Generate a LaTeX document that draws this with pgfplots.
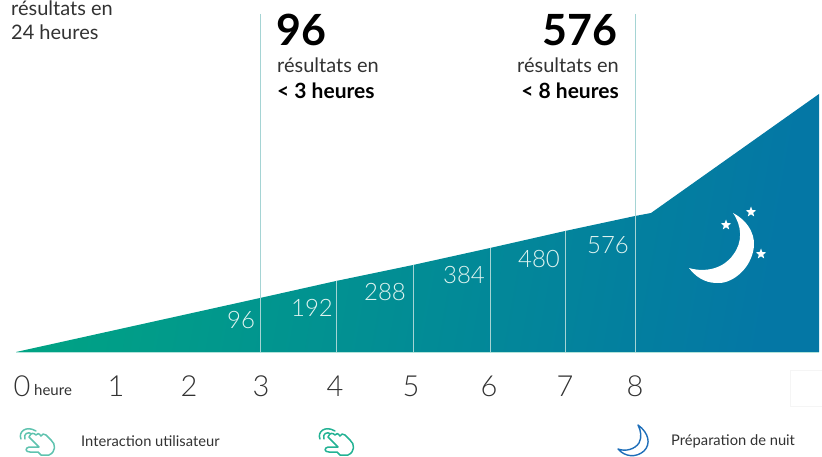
\documentclass[border=0pt]{standalone}
\usepackage{pgfplots}
\pgfplotsset{compat=1.18}
\usepackage{fontspec}
\setmainfont{Lato}
\newfontfamily\lightf{Lato Light}
\usetikzlibrary{shapes.geometric}
\definecolor{txt}{RGB}{50,50,50}
\definecolor{gleft}{RGB}{0,163,132}
\definecolor{gright}{RGB}{4,119,165}
\definecolor{vline}{RGB}{165,212,212}
\definecolor{handa}{RGB}{95,195,175}
\definecolor{handb}{RGB}{35,178,148}
\definecolor{moonb}{RGB}{30,110,185}

% hand icon, drawn around its top left corner
\newcommand{\hand}[3]{%
  \draw[#3,line width=1.5pt,line join=round,line cap=round]
    (#1+3,#2+12) .. controls (#1+0,#2+5) and (#1+8,#2-2) .. (#1+18,#2+4)
    (#1+7,#2+12) .. controls (#1+5,#2+7) and (#1+10,#2+4) .. (#1+14,#2+7)
    (#1+11,#2+10) -- (#1+21,#2+20) -- (#1+11,#2+20)
    .. controls (#1+7,#2+21) and (#1+7,#2+25) .. (#1+12,#2+25)
    -- (#1+20,#2+25) -- (#1+23,#2+28) -- (#1+31,#2+28)
    .. controls (#1+38,#2+25) and (#1+38,#2+17) .. (#1+33,#2+13)
    -- (#1+28,#2+8) .. controls (#1+26,#2+6) and (#1+24,#2+7) .. (#1+23,#2+9)
    .. controls (#1+21,#2+6) and (#1+19,#2+6) .. (#1+18,#2+8)
    .. controls (#1+16,#2+6) and (#1+13,#2+5) .. (#1+11,#2+10);}

\begin{document}
\begin{tikzpicture}[x=1pt,y=1pt,every node/.style={inner sep=0pt}]
\path[use as bounding box,clip] (0,0) rectangle (822pt,457pt);
\begin{axis}[
  at={(0pt,0pt)},anchor=south west,
  x=1pt,y=-1pt,
  xmin=0,xmax=822,ymin=0,ymax=457,
  axis lines=none,
  clip=false,
  scale only axis,
]
% ramp
\addplot[draw=none,shading=axis,left color=gleft,right color=gright,shading angle=80,forget plot]
  coordinates {(16,352)(260,298)(336,281)(413,265)(490,248)(565,231)(635,216)(651,213)(819,94)(819,352)} -- cycle;
\addplot[white!70!gleft,line width=0.7pt,forget plot] coordinates {(16,352)(819,352)};
% hour markers
\addplot[vline,line width=0.7pt] coordinates {(260,14)(260,352)};
\addplot[vline,line width=0.7pt] coordinates {(635,14)(635,352)};
\addplot[vline,line width=0.6pt] coordinates {(336,281)(336,352)};
\addplot[vline,line width=0.6pt] coordinates {(413,265)(413,352)};
\addplot[vline,line width=0.6pt] coordinates {(490,248)(490,352)};
\addplot[vline,line width=0.6pt] coordinates {(565,231)(565,352)};
% results
\node[white!88!gleft,font=\fontsize{24}{26}\lightf] at (241,320) {96};
\node[white!88!gleft,font=\fontsize{24}{26}\lightf] at (312,308) {192};
\node[white!88!gleft,font=\fontsize{24}{26}\lightf] at (385,292) {288};
\node[white!88!gleft,font=\fontsize{24}{26}\lightf] at (464,275) {384};
\node[white!88!gleft,font=\fontsize{24}{26}\lightf] at (539,259) {480};
\node[white!88!gleft,font=\fontsize{24}{26}\lightf] at (608,245) {576};
% hours
\foreach \x/\l in {22/0,116/1,189/2,261/3,335/4,411/5,489/6,565/7,635/8}{
  \edef\tmp{\noexpand\node[txt,font=\noexpand\fontsize{29}{30}\noexpand\lightf] at (\x,386) {\l};}\tmp}
\node[txt,font=\fontsize{15}{18}\selectfont,anchor=west] at (34,390) {heure};
% callouts
\node[txt,font=\fontsize{20}{24}\selectfont,anchor=west] at (11,8) {résultats en};
\node[txt,font=\fontsize{20}{24}\selectfont,anchor=west] at (11,32) {24 heures};
\node[black,font=\fontsize{43}{46}\selectfont\bfseries,anchor=west] at (276,30) {96};
\node[txt,font=\fontsize{20}{24}\selectfont,anchor=west] at (277,65) {résultats en};
\node[black,font=\fontsize{21}{24}\selectfont\bfseries,anchor=west] at (277,91) {< 3 heures};
\node[black,font=\fontsize{43}{46}\selectfont\bfseries,anchor=east] at (618,30) {576};
\node[txt,font=\fontsize{20}{24}\selectfont,anchor=east] at (619,65) {résultats en};
\node[black,font=\fontsize{21}{24}\selectfont\bfseries,anchor=east] at (619,91) {< 8 heures};
% moon and stars
\fill[white] (733,213) .. controls (750,222) and (757,238) .. (753,252)
  .. controls (748,272) and (730,284) .. (717,283)
  .. controls (704,283) and (695,276) .. (689,268)
  .. controls (706,273) and (724,268) .. (733,255)
  .. controls (743,242) and (742,226) .. (733,213) -- cycle;
\node[star,star points=5,star point ratio=2.4,fill=white,minimum size=11pt] at (751,212) {};
\node[star,star points=5,star point ratio=2.4,fill=white,minimum size=11pt] at (726,225) {};
\node[star,star points=5,star point ratio=2.4,fill=white,minimum size=11pt] at (761,254) {};
% legend
\hand{18}{427}{handa}
\hand{317}{427}{handb}
\node[txt,font=\fontsize{14.7}{18}\selectfont,anchor=west] at (81,441) {Interaction utilisateur};
\node[txt,font=\fontsize{14.7}{18}\selectfont,anchor=west] at (671,441) {Préparation de nuit};
\draw[moonb,line width=1.4pt,line join=round] (638,425) .. controls (649,433) and (651,444) .. (644,451)
  .. controls (636,458) and (625,457) .. (618,449)
  .. controls (626,452) and (635,449) .. (639,443)
  .. controls (642,437) and (641,431) .. (638,425) -- cycle;
\draw[black!4,line width=0.5pt] (790,406) -- (790,370) -- (822,370);
\draw[black!4,line width=0.5pt] (790,406) -- (822,406);
\end{axis}
\end{tikzpicture}
\end{document}
